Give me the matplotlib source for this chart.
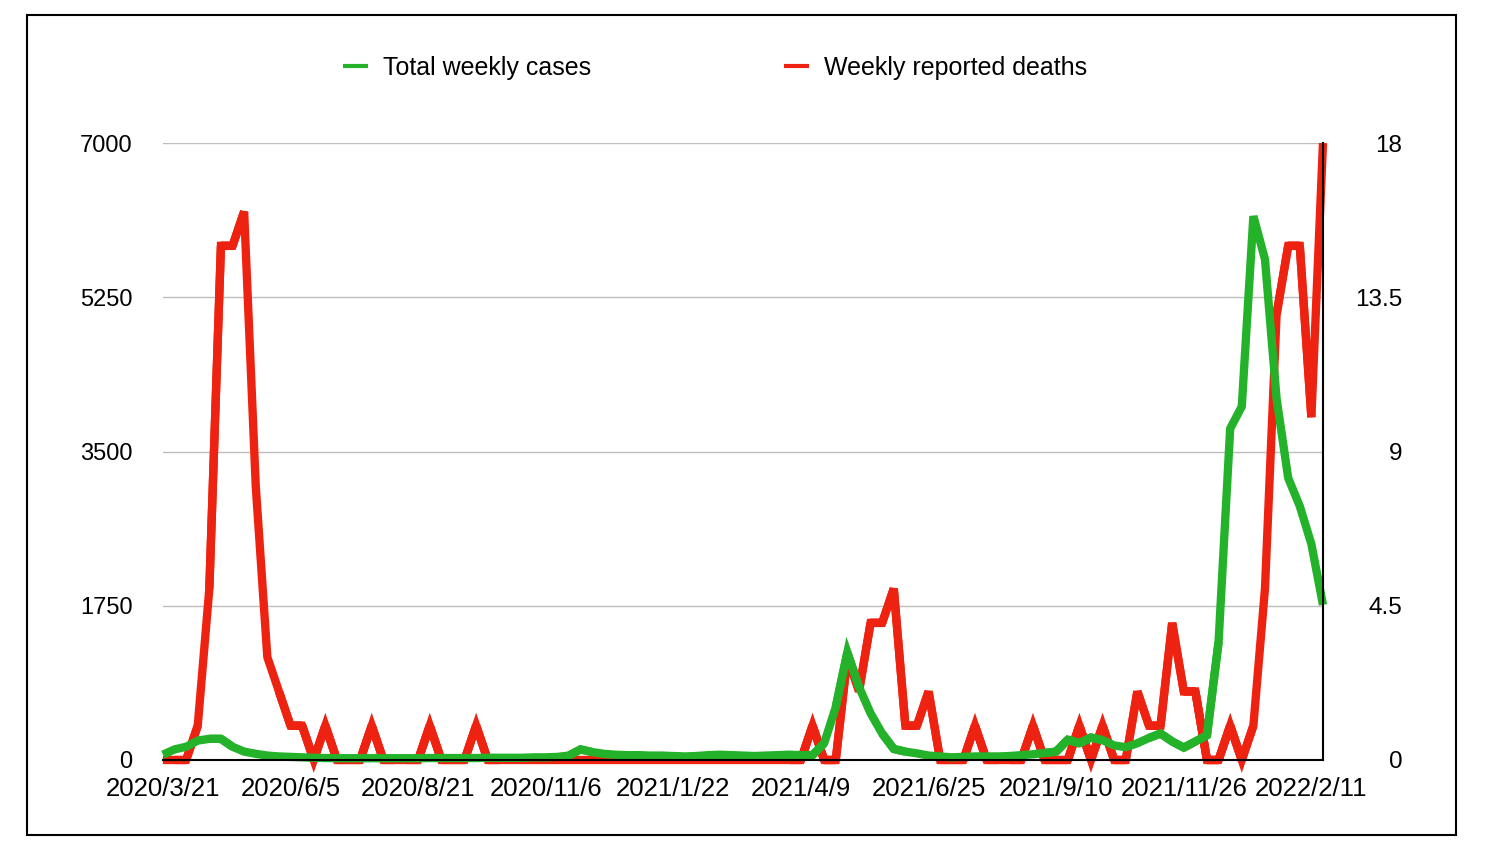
import numpy as np
import matplotlib
matplotlib.use("Agg")
import matplotlib.pyplot as plt
from matplotlib.patches import Rectangle

plt.rcParams['font.family'] = ['Liberation Sans', 'DejaVu Sans']

# weekly values
cases = [60, 120, 150, 220, 240, 240, 150, 95, 70, 50,
         40, 35, 30, 25, 22, 20, 20, 20, 20, 20,
         20, 20, 20, 22, 22, 22, 22, 22, 25, 25,
         25, 25, 30, 30, 35, 50, 120, 90, 70, 60,
         55, 55, 50, 50, 45, 40, 45, 55, 60, 55,
         50, 45, 50, 55, 60, 55, 55, 190, 600, 1220,
         830, 530, 300, 125, 95, 75, 50, 40, 30, 35,
         40, 40, 40, 45, 55, 65, 80, 95, 230, 190,
         255, 225, 165, 145, 190, 250, 300, 210, 140, 210,
         280, 1340, 3760, 4010, 6170, 5680, 4100, 3200, 2880, 2450,
         1760]

deaths = [0, 0, 0, 1, 5, 15, 15, 16, 8, 3,
          2, 1, 1, 0, 1, 0, 0, 0, 1, 0,
          0, 0, 0, 1, 0, 0, 0, 1, 0, 0,
          0, 0, 0, 0, 0, 0, 0, 0, 0, 0,
          0, 0, 0, 0, 0, 0, 0, 0, 0, 0,
          0, 0, 0, 0, 0, 0, 1, 0, 0, 3,
          2, 4, 4, 5, 1, 1, 2, 0, 0, 0,
          1, 0, 0, 0, 0, 1, 0, 0, 0, 1,
          0, 1, 0, 0, 2, 1, 1, 4, 2, 2,
          0, 0, 1, 0, 1, 5, 13, 15, 15, 10,
          18]

tick_labels = ['2020/3/21', '2020/6/5', '2020/8/21', '2020/11/6', '2021/1/22',
               '2021/4/9', '2021/6/25', '2021/9/10', '2021/11/26', '2022/2/11']
left_ticks = [0, 1750, 3500, 5250, 7000]
right_ticks = [0, 4.5, 9, 13.5, 18]

green = '#24b22b'
red = '#ee2211'
LW = 6


def draw_series(a, x, y, color, label):
    # bevel joins everywhere, then pointed (miter) joins where the corner
    # is not too sharp, like the original chart renderer does
    line, = a.plot(x, y, color=color, lw=LW, solid_joinstyle='bevel',
                   solid_capstyle='butt', clip_on=False, label=label)
    pts = a.transData.transform(np.column_stack([x, y]))
    for k in range(1, len(x) - 1):
        v1 = pts[k - 1] - pts[k]
        v2 = pts[k + 1] - pts[k]
        c = np.dot(v1, v2) / (np.linalg.norm(v1) * np.linalg.norm(v2))
        ang = np.arccos(np.clip(c, -1, 1))
        if ang < np.radians(150) and 1 / np.sin(ang / 2) <= 4:
            a.plot(x[k - 1:k + 2], y[k - 1:k + 2], color=color, lw=LW,
                   solid_joinstyle='miter', solid_capstyle='butt', clip_on=False)
    return line


fig = plt.figure(figsize=(14.88, 8.6), dpi=100)
ax = fig.add_axes([0.1095, 0.1163, 0.7796, 0.7174])
ax2 = ax.twinx()
# cases drawn above deaths
ax.set_zorder(ax2.get_zorder() + 1)
ax.patch.set_visible(False)

x = list(range(len(cases)))
ax.set_xlim(0, len(cases) - 1)
ax.set_ylim(0, 7000)
ax2.set_ylim(0, 18)

l2 = draw_series(ax2, x, deaths, red, 'Weekly reported deaths')
l1 = draw_series(ax, x, cases, green, 'Total weekly cases')

ax.set_xticks(range(0, len(cases), 11))
ax.set_xticklabels(tick_labels, fontsize=18.5)
ax.set_yticks(left_ticks)
ax.set_yticklabels([str(v) for v in left_ticks], fontsize=17)
ax2.set_yticks(right_ticks)
ax2.set_yticklabels(['%g' % v for v in right_ticks], fontsize=17.5, ha='right')

ax.tick_params(axis='x', length=0, pad=12)
ax.tick_params(axis='y', length=0, pad=22)
ax2.tick_params(axis='y', length=0, pad=57)

ax2.yaxis.grid(True, color='#bdbdbd', lw=1)
ax2.set_axisbelow(True)

for a in (ax, ax2):
    for s in a.spines.values():
        s.set_visible(False)
for s in ('bottom', 'right'):
    ax.spines[s].set_visible(True)
    ax.spines[s].set_color('black')
    ax.spines[s].set_linewidth(1.5)

leg = fig.legend([l1, l2], [l1.get_label(), l2.get_label()], loc='center',
                 bbox_to_anchor=(0.4805, 0.921), ncol=2, frameon=False,
                 handlelength=1.0, handletextpad=0.6, columnspacing=7.7,
                 fontsize=18)
for h in leg.get_lines():
    h.set_linewidth(3)

fig.patches.append(Rectangle((0.01815, 0.0291), 0.9604, 0.9535,
                             transform=fig.transFigure, fill=False,
                             edgecolor='black', lw=1.5))

fig.savefig('out.png', dpi=100)
